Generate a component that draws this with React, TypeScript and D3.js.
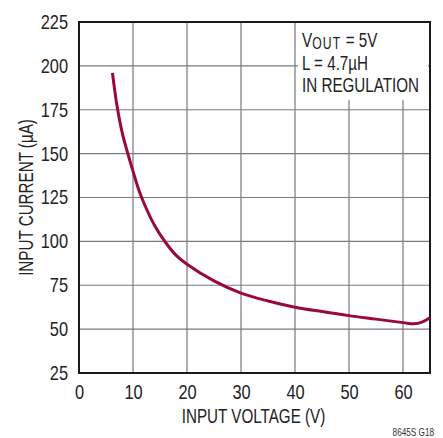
import { useEffect, useRef } from "react";
import * as d3 from "d3";

const inputVoltage = [6.2, 7, 8, 9, 10, 11, 12, 14, 16, 18, 20, 25, 30, 35, 40, 45, 50, 55, 60, 62, 63.5, 65];
const inputCurrent = [196, 178, 162, 150.5, 140, 130, 122, 109, 99.5, 92, 87, 77.5, 70.5, 66, 62.5, 60, 57.7, 55.7, 53.7, 53, 54, 56.5];

const xTicks = [0, 10, 20, 30, 40, 50, 60];
const yTicks = [25, 50, 75, 100, 125, 150, 175, 200, 225];
const xGrid = [10, 20, 30, 40, 50, 60];

// Helvetica Condensed look-alike: Liberation Sans squeezed horizontally
const FONT = "'Liberation Sans', Arial, sans-serif";
const SQUEEZE = 0.76;
const TICK_SQUEEZE = 0.82;

export default function App() {
  const svgRef = useRef<SVGSVGElement>(null);

  useEffect(() => {
    const svg = svgRef.current;
    if (!svg) return;
    const sel = d3.select(svg);
    sel.selectAll("*").remove();

    const margin = { top: 22, right: 13, bottom: 65, left: 79 };
    const width = 443 - margin.left - margin.right;
    const height = 438 - margin.top - margin.bottom;

    const x = d3.scaleLinear().domain([0, 65]).range([0, width]);
    const y = d3.scaleLinear().domain([25, 225]).range([height, 0]);

    const g = sel.append("g").attr("transform", `translate(${margin.left},${margin.top})`);

    // grid
    g.append("g")
      .selectAll("line")
      .data(xGrid)
      .enter()
      .append("line")
      .attr("x1", (d) => x(d))
      .attr("x2", (d) => x(d))
      .attr("y1", 0)
      .attr("y2", height)
      .attr("stroke", "#7a7a7a")
      .attr("stroke-width", 1.2);

    g.append("g")
      .selectAll("line")
      .data(yTicks.slice(1, -1))
      .enter()
      .append("line")
      .attr("x1", 0)
      .attr("x2", width)
      .attr("y1", (d) => y(d))
      .attr("y2", (d) => y(d))
      .attr("stroke", "#7a7a7a")
      .attr("stroke-width", 1.2);

    // white box behind annotation
    g.append("rect")
      .attr("x", 219)
      .attr("y", 0)
      .attr("width", 130)
      .attr("height", 78)
      .attr("fill", "#fff");

    // frame
    g.append("rect")
      .attr("x", 0)
      .attr("y", 0)
      .attr("width", width)
      .attr("height", height)
      .attr("fill", "none")
      .attr("stroke", "#1a1a1a")
      .attr("stroke-width", 2);

    // curve
    const pts = inputVoltage.map((v, i) => [v, inputCurrent[i]] as [number, number]);
    const line = d3
      .line<[number, number]>()
      .x((d) => x(d[0]))
      .y((d) => y(d[1]))
      .curve(d3.curveCatmullRom.alpha(0.5));

    g.append("path")
      .datum(pts)
      .attr("d", line)
      .attr("fill", "none")
      .attr("stroke", "#990a36")
      .attr("stroke-width", 3);

    // x axis
    const xAxis = g
      .append("g")
      .attr("transform", `translate(0,${height})`)
      .call(d3.axisBottom(x).tickValues(xTicks).tickSize(0).tickPadding(12));
    xAxis.select(".domain").remove();
    xAxis
      .selectAll("text")
      .attr("font-size", 20)
      .attr("font-family", FONT)
      .attr("fill", "#222")
      .attr("transform", `scale(${TICK_SQUEEZE},1)`);

    // y axis
    const yAxis = g.append("g").call(d3.axisLeft(y).tickValues(yTicks).tickSize(0));
    yAxis.select(".domain").remove();
    yAxis
      .selectAll("text")
      .attr("x", -11 / TICK_SQUEEZE)
      .attr("font-size", 20)
      .attr("font-family", FONT)
      .attr("fill", "#222")
      .attr("transform", `scale(${TICK_SQUEEZE},1)`);

    // axis titles
    sel.append("text")
      .attr("transform", `translate(${margin.left + width / 2 - 1},423) scale(${SQUEEZE},1)`)
      .attr("text-anchor", "middle")
      .attr("font-size", 20)
      .attr("font-family", FONT)
      .attr("fill", "#222")
      .text("INPUT VOLTAGE (V)");

    sel.append("text")
      .attr("transform", `translate(33,${margin.top + height / 2}) rotate(-90) scale(${SQUEEZE},1)`)
      .attr("text-anchor", "middle")
      .attr("font-size", 20)
      .attr("font-family", FONT)
      .attr("fill", "#222")
      .text("INPUT CURRENT (µA)");

    // annotation
    const ann = sel.append("g").attr("transform", `translate(302,0) scale(${SQUEEZE},1)`);
    const annText = ann.append("text").attr("font-size", 20).attr("font-family", FONT).attr("fill", "#222");
    const l1 = annText.append("tspan").attr("x", 0).attr("y", 47);
    l1.append("tspan").text("V");
    l1.append("tspan").attr("font-size", 16).attr("dy", 2).attr("letter-spacing", 1.6).text("OUT");
    l1.append("tspan").attr("dy", -2).text(" = 5V");
    annText.append("tspan").attr("x", 0).attr("y", 70).text("L = 4.7µH");
    annText.append("tspan").attr("x", 0).attr("y", 92).text("IN REGULATION");

    // figure code
    sel.append("text")
      .attr("transform", `translate(434,436) scale(0.82,1)`)
      .attr("text-anchor", "end")
      .attr("font-size", 10)
      .attr("font-family", FONT)
      .attr("fill", "#333")
      .text("8645S G18");
  }, []);

  return (
    <svg
      ref={svgRef}
      width={443}
      height={438}
      style={{ position: "absolute", left: 0, top: 0, background: "#fff" }}
    />
  );
}
